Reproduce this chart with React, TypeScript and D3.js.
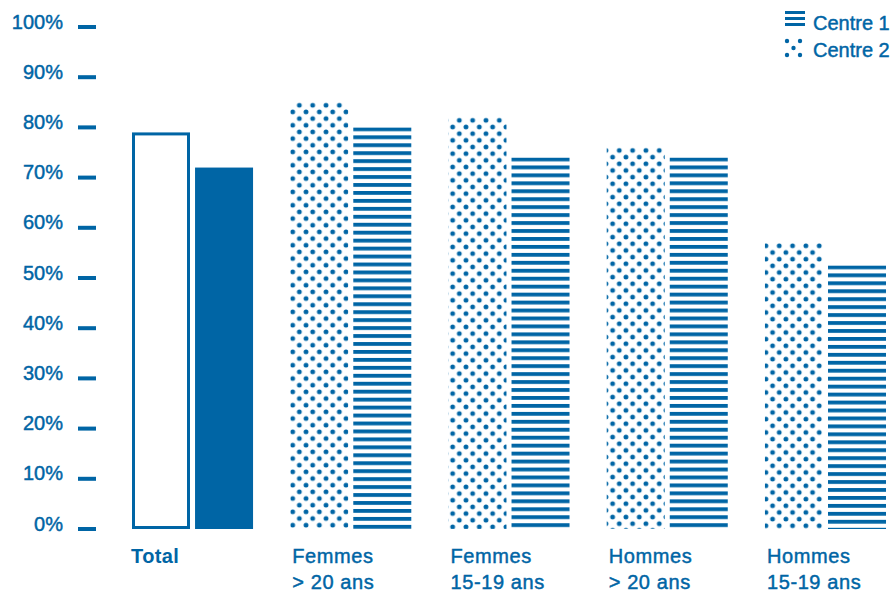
import React from "react";
import * as d3 from "d3";

const categories = ["Total", "Femmes\n> 20 ans", "Femmes\n15-19 ans", "Hommes\n> 20 ans", "Hommes\n15-19 ans"];
const centre2Values = [79, 85, 82, 76, 57];
const centre1Values = [72, 80, 74, 74, 52.5];
const yTicks = [0, 10, 20, 30, 40, 50, 60, 70, 80, 90, 100];
const legendLabels = ["Centre 1", "Centre 2"];

const W = 896;
const H = 593;
const BLUE = "#0065a5";
const FONT = "'Liberation Sans', Arial, Helvetica, sans-serif";
const medium = { stroke: BLUE, strokeWidth: 0.45, paintOrder: "stroke" as const };

export default function App() {
  const y = d3.scaleLinear().domain([0, 100]).range([529, 27]);
  const x0 = d3.scaleBand<number>().domain(d3.range(categories.length)).range([132, 886]).paddingInner(0.235).paddingOuter(0);
  const x1 = d3.scaleBand<string>().domain(["c2", "c1"]).range([0, x0.bandwidth()]).paddingInner(0.08).paddingOuter(0);
  const bw = x1.bandwidth();
  const dotP = 13.33;

  return (
    <div style={{ position: "absolute", left: 0, top: 0 }}>
      <svg width={W} height={H} style={{ display: "block", fontFamily: FONT }}>
        <defs>
          {categories.map((_, i) => {
            const top2 = y(centre2Values[i]);
            const top1 = y(centre1Values[i]);
            return (
              <React.Fragment key={i}>
                <pattern id={`dots${i}`} patternUnits="userSpaceOnUse" x={292.7} y={top2 - 3.7} width={dotP} height={dotP}>
                  <circle cx={0} cy={0} r={2.4} fill={BLUE} />
                  <circle cx={dotP} cy={0} r={2.4} fill={BLUE} />
                  <circle cx={0} cy={dotP} r={2.4} fill={BLUE} />
                  <circle cx={dotP} cy={dotP} r={2.4} fill={BLUE} />
                  <circle cx={dotP / 2} cy={dotP / 2} r={2.4} fill={BLUE} />
                </pattern>
                <pattern id={`stripes${i}`} patternUnits="userSpaceOnUse" x={0} y={top1} width={10} height={7.95}>
                  <rect x={0} y={0} width={10} height={3.8} fill={BLUE} />
                </pattern>
              </React.Fragment>
            );
          })}
          <pattern id="legendStripes" patternUnits="userSpaceOnUse" x={0} y={11} width={10} height={6}>
            <rect x={0} y={0} width={10} height={3} fill={BLUE} />
          </pattern>
        </defs>

        {/* Y axis */}
        {yTicks.map((t) => (
          <g key={t}>
            <rect x={78} y={y(t) - 2} width={18} height={4} fill={BLUE} />
            <text x={63} y={y(t) + 1.5} textAnchor="end" fontSize={20} fill={BLUE} {...medium}>
              {t}%
            </text>
          </g>
        ))}

        {/* Bars */}
        {categories.map((_, i) => {
          const gx = x0(i)!;
          const v2 = centre2Values[i];
          const v1 = centre1Values[i];
          if (i === 0) {
            return (
              <g key={i}>
                <rect x={gx + x1("c2")! + 1.5} y={y(v2) + 1.5} width={bw - 3} height={y(0) - y(v2) - 3} fill="white" stroke={BLUE} strokeWidth={3} />
                <rect x={gx + x1("c1")!} y={y(v1)} width={bw} height={y(0) - y(v1)} fill={BLUE} />
              </g>
            );
          }
          return (
            <g key={i}>
              <rect x={gx + x1("c2")!} y={y(v2)} width={bw} height={y(0) - y(v2)} fill={`url(#dots${i})`} />
              <rect x={gx + x1("c1")!} y={y(v1)} width={bw} height={y(0) - y(v1)} fill={`url(#stripes${i})`} />
            </g>
          );
        })}

        {/* X labels */}
        {categories.map((c, i) => {
          const lines = c.split("\n");
          const gx = x0(i)! + (i === 0 ? -1 : 2);
          const extra = i === 0 ? { letterSpacing: 0.4 } : { letterSpacing: 0.6, ...medium };
          return (
            <text key={i} x={gx} y={563} fontSize={20} fill={BLUE} fontWeight={i === 0 ? "bold" : "normal"} {...extra}>
              {lines.map((l, j) => (
                <tspan key={j} x={gx} dy={j === 0 ? 0 : 25.5}>
                  {l}
                </tspan>
              ))}
            </text>
          );
        })}

        {/* Legend */}
        <rect x={785} y={11} width={20} height={17} fill="url(#legendStripes)" />
        <text x={813} y={29.5} fontSize={20} fill={BLUE} {...medium}>{legendLabels[0]}</text>
        <g fill={BLUE}>
          {[[787, 41], [800, 41], [793.5, 48], [787, 55], [800, 55]].map(([cx, cy], k) => (
            <circle key={k} cx={cx} cy={cy} r={2.2} />
          ))}
        </g>
        <text x={813} y={57} fontSize={20} fill={BLUE} {...medium}>{legendLabels[1]}</text>
      </svg>
    </div>
  );
}
